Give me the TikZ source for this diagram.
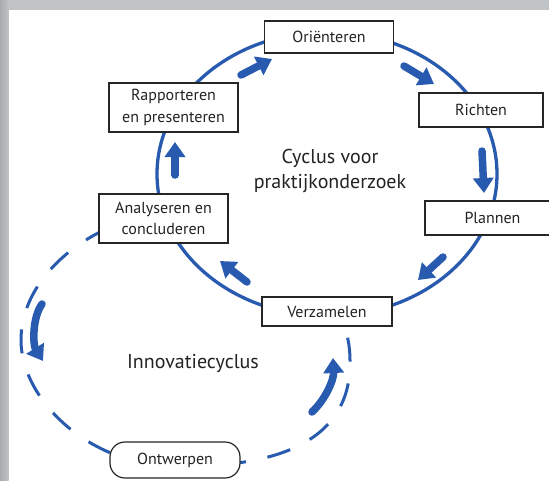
\documentclass[tikz,border=0pt]{standalone}
\usepackage{fontspec}
\setmainfont{PT Sans}
\usetikzlibrary{arrows.meta}
\definecolor{cycblue}{RGB}{40,90,175}
\definecolor{framegrey}{RGB}{192,196,198}
\definecolor{framedark}{RGB}{168,172,175}
\definecolor{inktext}{RGB}{35,35,35}
\begin{document}
\begin{tikzpicture}[x=1pt,y=-1pt,
  stage/.style={draw=black!85, line width=1.2pt, fill=white, text=inktext,
    font=\fontsize{16}{21.5}\selectfont, align=center, inner sep=0pt},
  bigarrow/.style={draw=cycblue, line width=7.5pt, line cap=round,
    -{Triangle[width=20pt 0 0,length=15pt 0 0]}},
  cycline/.style={draw=cycblue, line width=3.3pt},
  dashline/.style={draw=cycblue, line width=3pt, dash pattern=on 24pt off 22pt, dash phase=8pt},
  biglabel/.style={text=inktext, font=\fontsize{20}{25}\selectfont, align=center}]
\useasboundingbox (0,0) rectangle (549,480);
\clip (0,0) rectangle (549,480);
% frame
\fill[white] (0,0) rectangle (549,480);
\fill[framegrey] (0,0) rectangle (549,10);
\shade[left color=framedark, right color=framegrey] (0,0) rectangle (8.5,480);
% main cycle
\draw[cycline] (327,174) ellipse [x radius=170pt, y radius=142pt];
% innovation cycle (dashed)
\draw[dashline] (100,232) .. controls (55,255) and (21,295) .. (21,340)
  .. controls (21,400) and (90,466) .. (175,466)
  .. controls (270,468) and (352,445) .. (350,360)
  .. controls (350,345) and (347,333) .. (342,318);
% arrows of the main cycle
\draw[bigarrow] (241,75) -- (272,59);
\draw[bigarrow] (404,66) -- (434,84);
\draw[bigarrow] (482,151) -- (484,193);
\draw[bigarrow] (443,257) -- (418,280);
\draw[bigarrow] (247,282) -- (220,261);
\draw[bigarrow] (175,175) -- (175,142);
% arrows of the innovation cycle
\draw[bigarrow] (42,304) .. controls (32,318) and (33,345) .. (43,361);
\draw[bigarrow] (312,412) .. controls (325,400) and (334,380) .. (333,358);
% stages
\node[stage, minimum width=129pt, minimum height=32pt] (orient) at (329,37) {Oriënteren};
\node[stage, minimum width=124pt, minimum height=34pt] (richt) at (481,110) {Richten};
\node[stage, minimum width=135pt, minimum height=34pt] (plan) at (492.5,218) {Plannen};
\node[stage, minimum width=130pt, minimum height=29pt] (verz) at (327,311.5) {Verzamelen};
\node[stage, minimum width=129pt, minimum height=49pt] (anal) at (163.5,218.5) {Analyseren en\\concluderen};
\node[stage, minimum width=129pt, minimum height=49pt] (rapp) at (173.5,107.5) {Rapporteren\\en presenteren};
\node[stage, rounded corners=15pt, minimum width=130pt, minimum height=36pt] (ontw) at (175,460) {Ontwerpen};
% labels
\node[biglabel] (cyclab) at (330,171) {Cyclus voor\\praktijkonderzoek};
\node[biglabel] (innlab) at (193,363) {Innovatiecyclus};
\end{tikzpicture}
\end{document}
